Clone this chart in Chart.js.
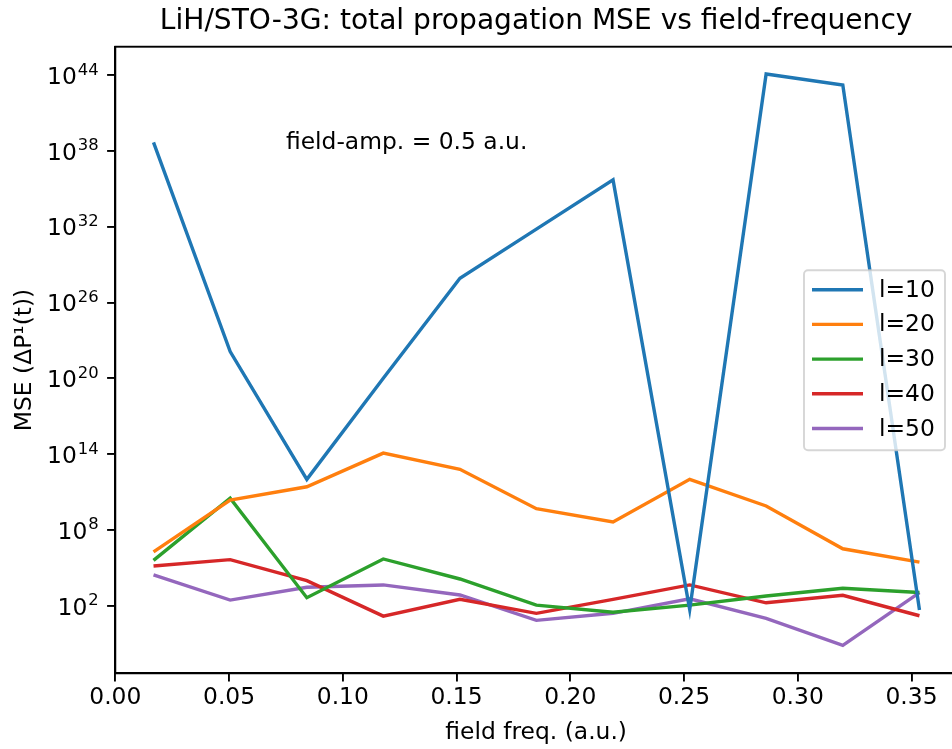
<!DOCTYPE html>
<html>
<head>
<meta charset="utf-8">
<script src="https://cdn.jsdelivr.net/npm/chart.js@4"></script>
<style>
  html, body { margin: 0; padding: 0; overflow: hidden; background: #fff; }
  #wrap { width: 965px; height: 749px; }
</style>
</head>
<body>
<div id="wrap"><canvas id="chart" width="965" height="749"></canvas></div>
<script>
// field frequencies (a.u.)
const freqs = [0.0168, 0.0505, 0.0842, 0.1178, 0.1515, 0.1851, 0.2188, 0.2525, 0.2861, 0.3198, 0.3535]
const seriesLabels = ['l=10', 'l=20', 'l=30', 'l=40', 'l=50']
const mseL10 = [4.6e38, 1.3e22, 1.0e12, 1.0e20, 8.3e27, 6.3e31, 5.0e35, 5.0e1, 1.2e44, 1.6e43, 4.6e1]
const mseL20 = [1.8e6, 2.3e10, 2.6e11, 1.2e14, 6.3e12, 4.8e9, 4.3e8, 1.0e12, 7.8e9, 3.2e6, 2.8e5]
const mseL30 = [3.9e5, 3.2e10, 4.3e2, 5.0e5, 1.3e4, 1.1e2, 3.0e1, 1.1e2, 5.9e2, 2.4e3, 1.1e3]
const mseL40 = [1.4e5, 4.4e5, 9.5e3, 1.5e1, 3.2e2, 2.5e1, 3.2e2, 4.4e3, 1.7e2, 6.6e2, 1.6e1]
const mseL50 = [2.8e4, 2.8e2, 2.9e3, 4.4e3, 7.1e2, 6.9e0, 2.5e1, 3.5e2, 1.0e1, 7.2e-2, 1.1e3]
const xTicks = [0, 0.05, 0.1, 0.15, 0.2, 0.25, 0.3, 0.35]
const yTicks = [1e2, 1e8, 1e14, 1e20, 1e26, 1e32, 1e38, 1e44]
const colors = ['#1f77b4', '#ff7f0e', '#2ca02c', '#d62728', '#9467bd']

const FONT = 'DejaVu Sans'
const FS = 23.4

const allSeries = [mseL10, mseL20, mseL30, mseL40, mseL50]
const datasets = allSeries.map((vals, i) => ({
    label: seriesLabels[i],
    data: vals.map((y, k) => ({ x: freqs[k], y: y })),
    borderColor: colors[i],
    backgroundColor: colors[i],
    borderWidth: 3.4,
    pointRadius: 0,
    tension: 0,
    fill: false
}))

// frame, 10^n tick labels, annotation, legend (matplotlib look)
const extras = {
    id: 'extras',
    afterDatasetsDraw(chart) {
        const { ctx, chartArea: a, scales } = chart
        ctx.save()
        ctx.strokeStyle = '#000'
        ctx.lineWidth = 1.9
        ctx.strokeRect(a.left, a.top, a.right - a.left, a.bottom - a.top)

        // y tick labels as 10 with raised exponent
        ctx.fillStyle = '#000'
        ctx.textBaseline = 'alphabetic'
        ctx.textAlign = 'left'
        const right = a.left - 16.6
        yTicks.forEach(v => {
            const y = scales.y.getPixelForValue(v)
            const exp = String(Math.round(Math.log10(v)))
            ctx.font = '16.4px "' + FONT + '"'
            const ew = ctx.measureText(exp).width
            ctx.fillText(exp, right - ew, y - 0.5)
            ctx.font = FS + 'px "' + FONT + '"'
            const bw = ctx.measureText('10').width
            ctx.fillText('10', right - ew - bw - 1, y + 8.8)
        })

        // annotation text
        ctx.font = FS + 'px "' + FONT + '"'
        ctx.textBaseline = 'middle'
        ctx.fillText('field-amp. = 0.5 a.u.', scales.x.getPixelForValue(0.075), scales.y.getPixelForValue(Math.pow(10, 38.6)))

        // legend box
        const bx = a.right - 153, by = a.top + 223.5, bw = 141, bh = 180
        ctx.beginPath()
        ctx.roundRect(bx, by, bw, bh, 4)
        ctx.fillStyle = 'rgba(255,255,255,0.8)'
        ctx.fill()
        ctx.strokeStyle = 'rgba(204,204,204,0.8)'
        ctx.lineWidth = 1.9
        ctx.stroke()
        chart.data.datasets.forEach((ds, i) => {
            const y = by + 19.5 + i * 34.7
            ctx.beginPath()
            ctx.moveTo(bx + 8, y)
            ctx.lineTo(bx + 59, y)
            ctx.strokeStyle = ds.borderColor
            ctx.lineWidth = 3.4
            ctx.stroke()
            ctx.fillStyle = '#000'
            ctx.fillText(ds.label, bx + 75, y + 1)
        })
        ctx.restore()
    }
}

new Chart(document.getElementById('chart').getContext('2d'), {
    type: 'line',
    data: { datasets: datasets },
    plugins: [extras],
    options: {
        responsive: false,
        animation: false,
        layout: { padding: { left: 0, right: 8, top: 0, bottom: 0 } },
        plugins: {
            legend: { display: false },
            tooltip: { enabled: false },
            title: {
                display: true,
                fullSize: false,
                text: 'LiH/STO-3G: total propagation MSE vs field-frequency',
                color: '#000',
                font: { family: FONT, size: 28.1, weight: 'normal' },
                padding: { top: 5, bottom: 8 }
            }
        },
        scales: {
            x: {
                type: 'linear',
                min: 0,
                max: 0.37,
                afterBuildTicks: axis => { axis.ticks = xTicks.map(v => ({ value: v })) },
                afterFit: scale => { scale.height = 75.7 },
                ticks: {
                    color: '#000',
                    font: { family: FONT, size: FS },
                    padding: 2,
                    maxRotation: 0,
                    callback: v => v.toFixed(2)
                },
                grid: { drawOnChartArea: false, drawTicks: true, tickLength: 8.2, color: '#000', lineWidth: 1.9 },
                border: { display: true, color: '#000', width: 1.9 },
                title: {
                    display: true,
                    text: 'field freq. (a.u.)',
                    color: '#000',
                    font: { family: FONT, size: FS },
                    padding: { top: 0, bottom: 2 }
                }
            },
            y: {
                type: 'logarithmic',
                min: Math.pow(10, -3.35),
                max: Math.pow(10, 46.24),
                afterBuildTicks: axis => { axis.ticks = yTicks.map(v => ({ value: v })) },
                afterFit: scale => { scale.width = 115.3 },
                ticks: { display: false },
                grid: { drawOnChartArea: false, drawTicks: true, tickLength: 8.2, color: '#000', lineWidth: 1.9 },
                border: { display: true, color: '#000', width: 1.9 },
                title: {
                    display: true,
                    text: 'MSE (ΔP¹(t))',
                    color: '#000',
                    font: { family: FONT, size: FS },
                    padding: { top: 10.7, bottom: 0 }
                }
            }
        }
    }
})
</script>
</body>
</html>
